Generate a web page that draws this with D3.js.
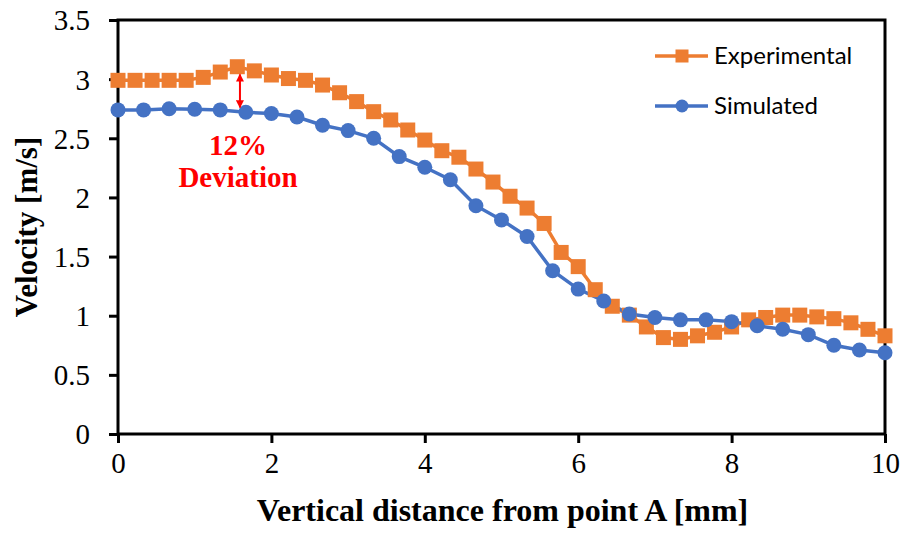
<!DOCTYPE html>
<html>
<head>
<meta charset="utf-8">
<script src="https://cdn.jsdelivr.net/npm/d3@7"></script>
<style>
  html, body { margin: 0; padding: 0; background: #fff; }
  svg { display: block; }
</style>
</head>
<body>
<svg id="chart" width="907" height="533"></svg>
<script>
// Velocity profiles along the vertical line from point A
const xTicks = [0, 2, 4, 6, 8, 10];
const yTicks = [0, 0.5, 1, 1.5, 2, 2.5, 3, 3.5];
const yTickLabels = ["0", "0.5", "1", "1.5", "2", "2.5", "3", "3.5"];

// Experimental: 46 samples, 10/45 mm apart
const expStep = 10 / 45;
const expValues = [
  2.99, 2.99, 2.99, 2.99, 2.99, 3.015, 3.06, 3.105, 3.07, 3.035,
  3.005, 2.99, 2.95, 2.885, 2.81, 2.725, 2.655, 2.57, 2.485, 2.395,
  2.34, 2.24, 2.13, 2.01, 1.91, 1.78, 1.535, 1.415, 1.22, 1.08,
  1.005, 0.905, 0.815, 0.80, 0.83, 0.86, 0.905, 0.965, 0.985, 1.005,
  1.005, 0.99, 0.975, 0.94, 0.885, 0.83
];

// Simulated: 31 samples, 1/3 mm apart
const simStep = 10 / 30;
const simValues = [
  2.74, 2.74, 2.75, 2.745, 2.74, 2.72, 2.71, 2.68, 2.61, 2.565,
  2.50, 2.345, 2.255, 2.15, 1.93, 1.81, 1.67, 1.38, 1.225, 1.125,
  1.015, 0.985, 0.965, 0.965, 0.95, 0.915, 0.885, 0.84, 0.75, 0.71,
  0.687
];

const seriesNames = ["Experimental", "Simulated"];
const seriesColors = ["#ED7D31", "#4472C4"];

// Deviation annotation (x in mm, velocities at the arrow ends)
const devX = 1.59;
const devTop = 3.04;
const devBottom = 2.76;
const devLines = ["12%", "Deviation"];

const svg = d3.select("#chart");
const margin = { left: 118, top: 20, right: 22, bottom: 99 };
const W = 907, H = 533;

const x = d3.scaleLinear().domain([0, 10]).range([margin.left, W - margin.right]);
const y = d3.scaleLinear().domain([0, 3.5]).range([H - margin.bottom, margin.top]);

const serif = "'Liberation Serif', 'Times New Roman', serif";

// Axes
const xAxis = d3.axisBottom(x).tickValues(xTicks).tickSize(9).tickSizeOuter(0).tickPadding(10)
  .tickFormat(d3.format("d"));
const yAxis = d3.axisLeft(y).tickValues(yTicks).tickSize(9).tickSizeOuter(0).tickPadding(19)
  .tickFormat((d, i) => yTickLabels[i]);

const gx = svg.append("g").attr("transform", `translate(0,${y(0)})`).call(xAxis);
const gy = svg.append("g").attr("transform", `translate(${x(0)},0)`).call(yAxis);

[gx, gy].forEach(g => {
  g.select(".domain").remove();
  g.selectAll(".tick line").attr("stroke", "#000").attr("stroke-width", 3);
  g.selectAll(".tick text").attr("font-family", serif).attr("font-size", 29).attr("fill", "#000");
});
gy.selectAll(".tick text").attr("dy", "0.34em");
gx.selectAll(".tick text").attr("dy", "0.70em");

// Plot frame
svg.append("rect")
  .attr("x", x(0)).attr("y", y(3.5))
  .attr("width", x(10) - x(0)).attr("height", y(0) - y(3.5))
  .attr("fill", "none").attr("stroke", "#000").attr("stroke-width", 3);

// Axis titles
svg.append("text")
  .attr("x", (x(0) + x(10)) / 2 + 1).attr("y", 521)
  .attr("text-anchor", "middle")
  .attr("font-family", serif).attr("font-weight", "bold").attr("font-size", 32)
  .text("Vertical distance from point A [mm]");

svg.append("text")
  .attr("transform", `translate(37,${(y(0) + y(3.5)) / 2}) rotate(-90)`)
  .attr("text-anchor", "middle")
  .attr("font-family", serif).attr("font-weight", "bold").attr("font-size", 31)
  .text("Velocity [m/s]");

// Series
const expData = expValues.map((v, i) => ({ x: i * expStep, y: v }));
const simData = simValues.map((v, i) => ({ x: i * simStep, y: v }));

const line = d3.line().x(d => x(d.x)).y(d => y(d.y));

svg.append("path").datum(expData)
  .attr("d", line).attr("fill", "none")
  .attr("stroke", seriesColors[0]).attr("stroke-width", 3.5);

svg.append("path").datum(simData)
  .attr("d", line).attr("fill", "none")
  .attr("stroke", seriesColors[1]).attr("stroke-width", 3.5);

const sq = 15;
svg.append("g").selectAll("rect").data(expData).join("rect")
  .attr("x", d => x(d.x) - sq / 2).attr("y", d => y(d.y) - sq / 2)
  .attr("width", sq).attr("height", sq)
  .attr("fill", seriesColors[0]);

svg.append("g").selectAll("circle").data(simData).join("circle")
  .attr("cx", d => x(d.x)).attr("cy", d => y(d.y)).attr("r", 7.5)
  .attr("fill", seriesColors[1]);

// Deviation arrow
const defs = svg.append("defs");
defs.append("marker")
  .attr("id", "arrowHead").attr("viewBox", "0 0 10 10")
  .attr("refX", 9).attr("refY", 5)
  .attr("markerWidth", 4.5).attr("markerHeight", 4)
  .attr("markerUnits", "strokeWidth")
  .attr("orient", "auto-start-reverse")
  .append("path").attr("d", "M0,0 L10,5 L0,10 Z").attr("fill", "#FF0000");

svg.append("line")
  .attr("x1", x(devX)).attr("x2", x(devX))
  .attr("y1", y(devTop)).attr("y2", y(devBottom))
  .attr("stroke", "#FF0000").attr("stroke-width", 2)
  .attr("marker-start", "url(#arrowHead)")
  .attr("marker-end", "url(#arrowHead)");

svg.append("g").selectAll("text").data(devLines).join("text")
  .attr("x", 238).attr("y", (d, i) => 155 + i * 32)
  .attr("text-anchor", "middle")
  .attr("font-family", serif).attr("font-weight", "bold").attr("font-size", 29)
  .attr("fill", "#FF0000")
  .text(d => d);

// Legend
const legend = svg.append("g");
const legY = [56, 106];
seriesNames.forEach((name, i) => {
  const g = legend.append("g").attr("transform", `translate(0,${legY[i]})`);
  g.append("line").attr("x1", 655).attr("x2", 708).attr("y1", 0).attr("y2", 0)
    .attr("stroke", seriesColors[i]).attr("stroke-width", 3.5);
  if (i === 0) {
    g.append("rect").attr("x", 682 - 6.5).attr("y", -6.5).attr("width", 13).attr("height", 13)
      .attr("fill", seriesColors[i]);
  } else {
    g.append("circle").attr("cx", 682).attr("cy", 0).attr("r", 6.5).attr("fill", seriesColors[i]);
  }
  g.append("text").attr("x", 714).attr("y", 0).attr("dy", "0.35em")
    .attr("font-family", "Lato, 'Open Sans', sans-serif").attr("font-size", 24)
    .attr("fill", "#000").text(name);
});
</script>
</body>
</html>
